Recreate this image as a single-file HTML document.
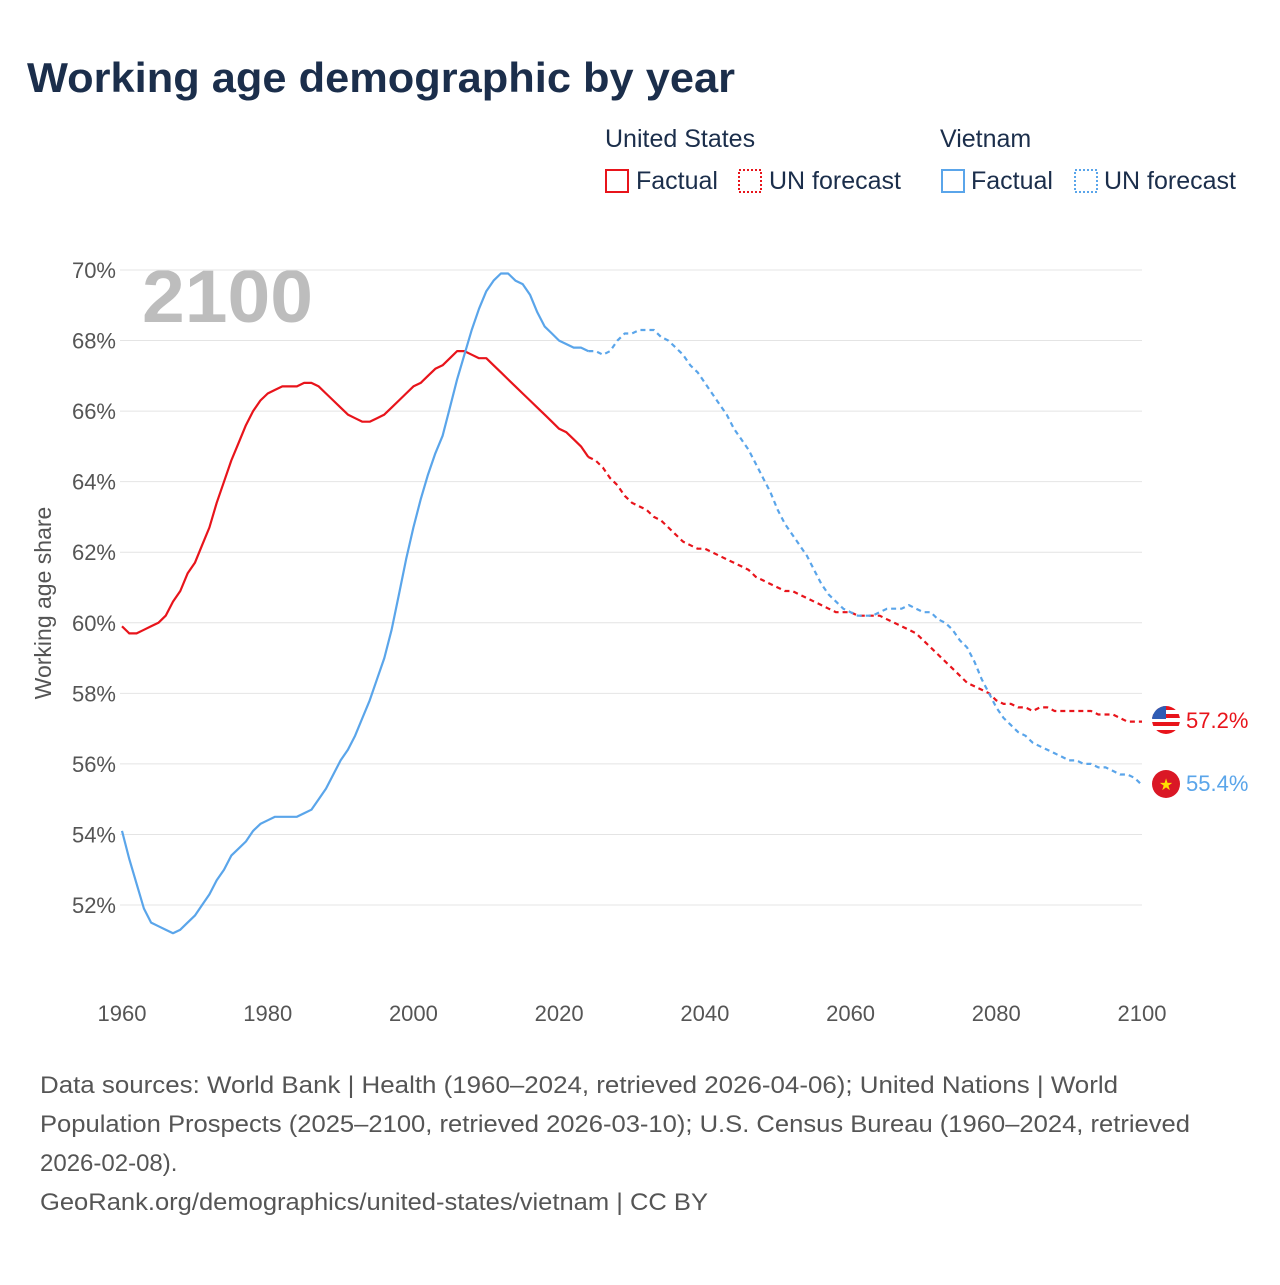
<!DOCTYPE html>
<html><head><meta charset="utf-8"><style>
body{margin:0;background:#fff;font-family:"Liberation Sans",sans-serif}
svg text{font-family:"Liberation Sans",sans-serif}
</style></head><body>
<svg id="c" width="1280" height="1280" xmlns="http://www.w3.org/2000/svg">
<text x="27" y="92" font-size="42" font-weight="bold" fill="#1b2e4b" textLength="708" lengthAdjust="spacingAndGlyphs">Working age demographic by year</text>
<g font-size="25" fill="#1b2e4b">
<text x="605" y="147" fill="#1b2e4b">United States</text>
<text x="940" y="147" fill="#1b2e4b">Vietnam</text>
<g><rect x="606" y="170" width="22" height="22" fill="none" stroke="#e8141b" stroke-width="2"/><text x="636" y="189" fill="#1b2e4b">Factual</text></g>
<g><rect x="739" y="170" width="22" height="22" fill="none" stroke="#e8141b" stroke-width="2" stroke-dasharray="2 2"/><text x="769" y="189" fill="#1b2e4b">UN forecast</text></g>
<g><rect x="942" y="170" width="22" height="22" fill="none" stroke="#5aa5ea" stroke-width="2"/><text x="971" y="189" fill="#1b2e4b">Factual</text></g>
<g><rect x="1075" y="170" width="22" height="22" fill="none" stroke="#5aa5ea" stroke-width="2" stroke-dasharray="2 2"/><text x="1104" y="189" fill="#1b2e4b">UN forecast</text></g>
</g>
<text x="142" y="322" font-size="74" font-weight="bold" fill="#bdbdbd" textLength="171" lengthAdjust="spacingAndGlyphs">2100</text>
<g id="grid"></g><g id="lines"></g>
<text transform="translate(51,603) rotate(-90)" text-anchor="middle" font-size="23" fill="#555">Working age share</text>
<g>
<g><clipPath id="cf1"><circle cx="1166" cy="720" r="14"/></clipPath><g clip-path="url(#cf1)"><rect x="1150" y="705" width="32" height="30" fill="#fff"/><rect x="1150" y="706" width="32" height="4" fill="#e8141b"/><rect x="1150" y="714" width="32" height="4" fill="#e8141b"/><rect x="1150" y="722" width="32" height="4" fill="#e8141b"/><rect x="1150" y="730" width="32" height="4" fill="#e8141b"/><rect x="1150" y="705" width="16" height="14" fill="#2f5cb4"/></g></g>
<text x="1186" y="728" font-size="22" fill="#e8141b">57.2%</text>
<g><circle cx="1166" cy="784" r="14" fill="#da1725"/><text x="1166" y="790" text-anchor="middle" font-size="16" fill="#ffde00">★</text></g>
<text x="1186" y="791" font-size="22" fill="#5aa5ea">55.4%</text>
</g>
<g font-size="24" fill="#555">
<text x="40" y="1093" textLength="1078" lengthAdjust="spacingAndGlyphs">Data sources: World Bank | Health (1960–2024, retrieved 2026-04-06); United Nations | World</text>
<text x="40" y="1132" textLength="1150" lengthAdjust="spacingAndGlyphs">Population Prospects (2025–2100, retrieved 2026-03-10); U.S. Census Bureau (1960–2024, retrieved</text>
<text x="40" y="1171">2026-02-08).</text>
<text x="40" y="1210" textLength="668" lengthAdjust="spacingAndGlyphs">GeoRank.org/demographics/united-states/vietnam | CC BY</text>
</g>
</svg>
<script>
const yTicks=[52,54,56,58,60,62,64,66,68,70];
const xTicks=[1960,1980,2000,2020,2040,2060,2080,2100];
const usFactual=[59.9,59.7,59.7,59.8,59.9,60.0,60.2,60.6,60.9,61.4,61.7,62.2,62.7,63.4,64.0,64.6,65.1,65.6,66.0,66.3,66.5,66.6,66.7,66.7,66.7,66.8,66.8,66.7,66.5,66.3,66.1,65.9,65.8,65.7,65.7,65.8,65.9,66.1,66.3,66.5,66.7,66.8,67.0,67.2,67.3,67.5,67.7,67.7,67.6,67.5,67.5,67.3,67.1,66.9,66.7,66.5,66.3,66.1,65.9,65.7,65.5,65.4,65.2,65.0,64.7];
const usForecast=[64.7,64.6,64.4,64.1,63.9,63.6,63.4,63.3,63.2,63.0,62.9,62.7,62.5,62.3,62.2,62.1,62.1,62.0,61.9,61.8,61.7,61.6,61.5,61.3,61.2,61.1,61.0,60.9,60.9,60.8,60.7,60.6,60.5,60.4,60.3,60.3,60.3,60.2,60.2,60.2,60.2,60.1,60.0,59.9,59.8,59.7,59.5,59.3,59.1,58.9,58.7,58.5,58.3,58.2,58.1,58.0,57.8,57.7,57.7,57.6,57.6,57.5,57.6,57.6,57.5,57.5,57.5,57.5,57.5,57.5,57.4,57.4,57.4,57.3,57.2,57.2,57.2];
const vnFactual=[54.1,53.3,52.6,51.9,51.5,51.4,51.3,51.2,51.3,51.5,51.7,52.0,52.3,52.7,53.0,53.4,53.6,53.8,54.1,54.3,54.4,54.5,54.5,54.5,54.5,54.6,54.7,55.0,55.3,55.7,56.1,56.4,56.8,57.3,57.8,58.4,59.0,59.8,60.8,61.8,62.7,63.5,64.2,64.8,65.3,66.1,66.9,67.6,68.3,68.9,69.4,69.7,69.9,69.9,69.7,69.6,69.3,68.8,68.4,68.2,68.0,67.9,67.8,67.8,67.7];
const vnForecast=[67.7,67.7,67.6,67.7,68.0,68.2,68.2,68.3,68.3,68.3,68.1,68.0,67.8,67.6,67.3,67.1,66.8,66.5,66.2,65.9,65.5,65.2,64.9,64.5,64.1,63.7,63.2,62.8,62.5,62.2,61.9,61.5,61.1,60.8,60.6,60.4,60.3,60.2,60.2,60.2,60.3,60.4,60.4,60.4,60.5,60.4,60.3,60.3,60.1,60.0,59.8,59.5,59.3,58.9,58.4,58.0,57.6,57.3,57.1,56.9,56.8,56.6,56.5,56.4,56.3,56.2,56.1,56.1,56.0,56.0,55.9,55.9,55.8,55.7,55.7,55.6,55.4];
const X=y=>122+(y-1960)*1020/140;
const Y=v=>270+(70-v)*635/18;
const NS='http://www.w3.org/2000/svg';
const grid=document.getElementById('grid'),lines=document.getElementById('lines');
function mk(tag,attrs,parent,txt){const e=document.createElementNS(NS,tag);for(const k in attrs)e.setAttribute(k,attrs[k]);if(txt!==undefined)e.textContent=txt;parent.appendChild(e);return e;}
yTicks.forEach(t=>{
 const l=mk('line',{x1:120,x2:1142,y1:Y(t),y2:Y(t),stroke:'#e4e4e4','stroke-width':1},grid);
 
 
 const tx=mk('text',{x:116,y:Y(t)+8,'text-anchor':'end','font-size':22,fill:'#555'},grid,t+'%');
 
 
});
xTicks.forEach(t=>{
 const tx=mk('text',{x:X(t),y:1021,'text-anchor':'middle','font-size':22,fill:'#555'},grid,String(t));
 
 
});
function path(vals,start,color,dash,name){
 const d=vals.map((v,i)=>(i?'L':'M')+X(start+i).toFixed(1)+' '+Y(v).toFixed(1)).join(' ');
 const p=mk('path',{d:d,fill:'none',stroke:color,'stroke-width':2.2,'stroke-linejoin':'round'},lines);
 if(dash)p.setAttribute('stroke-dasharray','5 4');
 
 
}
path(usFactual,1960,'#e8141b',false,'us-factual-line');
path(usForecast,2024,'#e8141b',true,'us-forecast-line');
path(vnFactual,1960,'#5aa5ea',false,'vn-factual-line');
path(vnForecast,2024,'#5aa5ea',true,'vn-forecast-line');
</script>
</body></html>
